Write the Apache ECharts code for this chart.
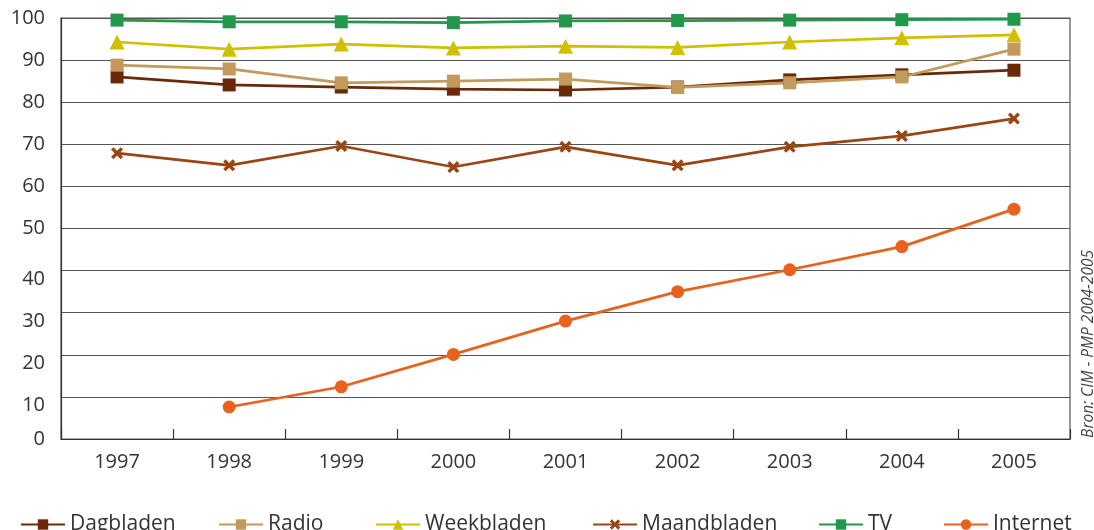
<!DOCTYPE html>
<html>
<head>
<meta charset="utf-8">
<script src="https://cdn.jsdelivr.net/npm/echarts@6/dist/echarts.min.js"></script>
<style>
  html, body { margin: 0; padding: 0; background: #fff; }
  #chart { width: 1094px; height: 530px; }
</style>
</head>
<body>
<div id="chart"></div>
<script>
// Reach of media types in percent, per year
const years = ['1997', '1998', '1999', '2000', '2001', '2002', '2003', '2004', '2005'];
const yTicks = [0, 10, 20, 30, 40, 50, 60, 70, 80, 90, 100];
const seriesNames = ['Dagbladen', 'Radio', 'Weekbladen', 'Maandbladen', 'TV', 'Internet'];

const dagbladen   = [86.0, 84.1, 83.6, 83.1, 82.9, 83.6, 85.3, 86.5, 87.6];
const radio       = [88.8, 87.9, 84.6, 85.0, 85.5, 83.5, 84.6, 86.0, 92.6];
const weekbladen  = [94.3, 92.6, 93.8, 92.9, 93.3, 93.0, 94.3, 95.3, 96.0];
const maandbladen = [67.9, 65.0, 69.6, 64.6, 69.4, 65.0, 69.4, 72.0, 76.1];
const tv          = [99.5, 99.1, 99.1, 98.9, 99.3, 99.4, 99.5, 99.6, 99.7];
const internet    = [null, 7.6, 12.4, 20.1, 28.0, 35.0, 40.2, 45.7, 54.6];

const FONT = '"Open Sans", "DejaVu Sans", sans-serif';
const crossPath = 'path://M0,2 L2,0 L5,3 L8,0 L10,2 L7,5 L10,8 L8,10 L5,7 L2,10 L0,8 L3,5 Z';

// left edge of each legend entry along the bottom row
const legendLefts = [20, 218, 375, 592, 818, 943];

function lineSeries(name, data, color, symbol, size) {
  return {
    name: name,
    type: 'line',
    data: data,
    symbol: symbol,
    symbolSize: size,
    showAllSymbol: true,
    connectNulls: false,
    lineStyle: { color: color, width: 2.7 },
    itemStyle: { color: color, borderWidth: 0 },
    emphasis: { disabled: true }
  };
}

const chart = echarts.init(document.getElementById('chart'), null, { renderer: 'canvas' });

chart.setOption({
  animation: false,
  backgroundColor: '#ffffff',
  textStyle: { fontFamily: FONT },
  grid: {
    left: 61, right: 24, top: 18, bottom: 91,
    show: true, borderColor: '#555', borderWidth: 1.2
  },
  legend: seriesNames.map(function (name, i) {
    return {
      bottom: -5,
      left: legendLefts[i],
      padding: 0,
      itemGap: 0,
      itemWidth: 44,
      itemHeight: 13,
      textStyle: { fontFamily: FONT, fontSize: 21, color: '#333' },
      data: [name]
    };
  }),
  xAxis: {
    type: 'category',
    data: years,
    boundaryGap: true,
    axisLine: { show: true, lineStyle: { color: '#333', width: 1.2 } },
    axisTick: { show: true, inside: true, length: 10, interval: 0, lineStyle: { color: '#333', width: 1.2 } },
    axisLabel: { margin: 13, fontSize: 20, color: '#333', fontFamily: FONT }
  },
  yAxis: {
    type: 'value',
    min: yTicks[0],
    max: yTicks[yTicks.length - 1],
    interval: 10,
    axisLine: { show: true, lineStyle: { color: '#333', width: 1.2 } },
    axisTick: { show: false },
    splitLine: { show: true, lineStyle: { color: '#555', width: 1.2 } },
    axisLabel: {
      margin: 16,
      fontSize: 20,
      color: '#333',
      fontFamily: FONT,
      formatter: function (v) {
        if (v > 0 && v < 50) return '{lo|' + v + '}';
        return '{n|' + v + '}';
      },
      rich: {
        lo: { fontSize: 20, color: '#333', fontFamily: FONT, padding: [17, 0, 0, 0] },
        n: { fontSize: 20, color: '#333', fontFamily: FONT }
      }
    }
  },
  graphic: [{
    type: 'text',
    left: 1081,
    top: 250,
    rotation: Math.PI / 2,
    style: {
      text: 'Bron: CIM - PMP 2004-2005',
      fontFamily: FONT,
      fontStyle: 'italic',
      fontSize: 15.5,
      fill: '#444'
    }
  }],
  series: [
    lineSeries('Dagbladen', dagbladen, '#6a2a0a', 'rect', 13),
    lineSeries('Radio', radio, '#c29a5c', 'rect', 13),
    lineSeries('Weekbladen', weekbladen, '#d0c000', 'triangle', 15),
    lineSeries('Maandbladen', maandbladen, '#9a4614', crossPath, 12),
    lineSeries('TV', tv, '#23974a', 'rect', 13),
    lineSeries('Internet', internet, '#e8621e', 'circle', 13)
  ]
});
</script>
</body>
</html>
